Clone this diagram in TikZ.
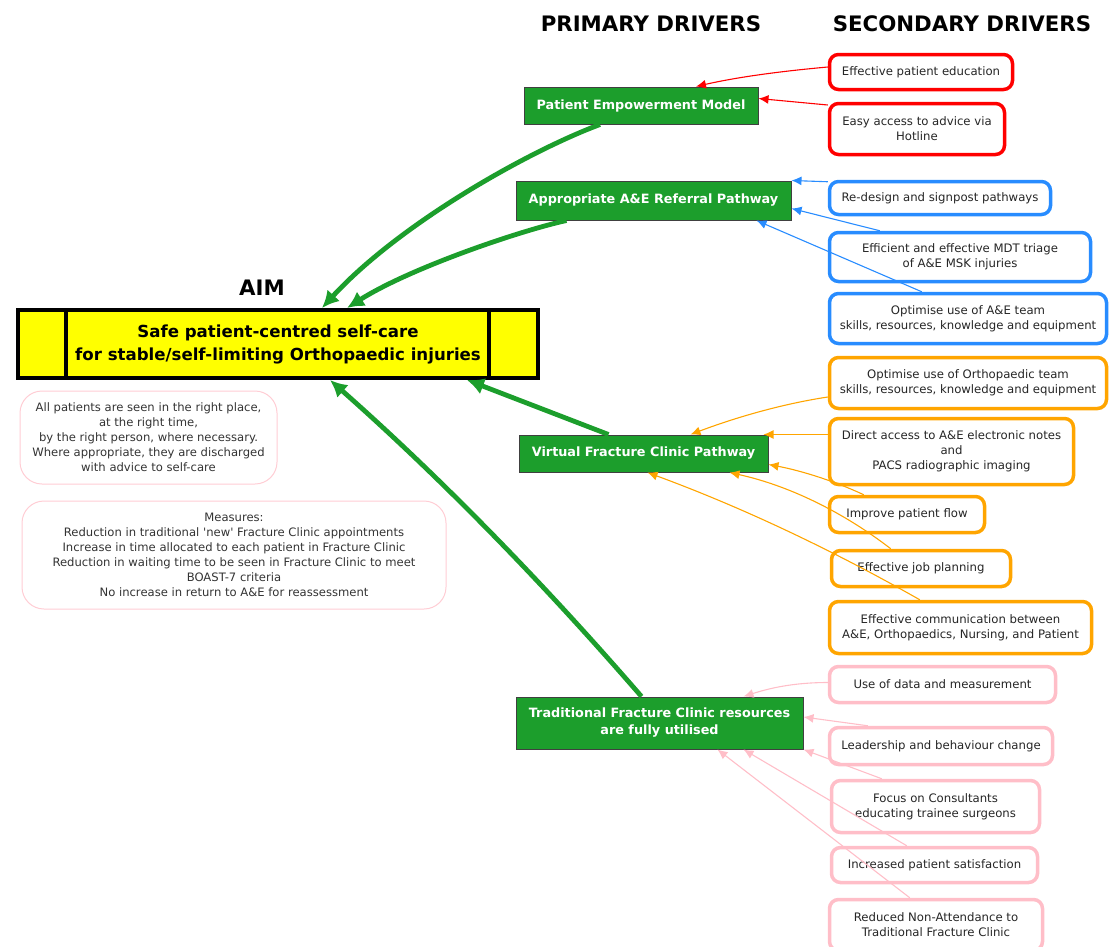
\documentclass[tikz,border=0pt]{standalone}
\usepackage{fontspec}
\setmainfont{DejaVu Sans}
\usetikzlibrary{arrows.meta}
\definecolor{drvgreen}{RGB}{28,158,44}
\definecolor{drvred}{RGB}{255,0,0}
\definecolor{drvblue}{RGB}{40,140,255}
\definecolor{drvorange}{RGB}{255,165,0}
\definecolor{drvpink}{RGB}{255,190,200}
\definecolor{notepink}{RGB}{255,205,212}
\definecolor{aimyellow}{RGB}{255,255,0}
\tikzset{
    prim/.style={draw=black!75, line width=1pt, fill=drvgreen, text=white, align=center, inner sep=1pt, font=\fontsize{12.8}{17}\selectfont\bfseries},
    sec/.style={draw=#1, line width=3.5pt, rounded corners=9pt, fill=white, align=center, inner sep=1pt, text=black!85, font=\fontsize{11.7}{15}\selectfont},
    note/.style={draw=notepink, line width=1pt, rounded corners=22pt, align=center, inner sep=1pt, text=black!80, font=\fontsize{11.6}{15}\selectfont},
    head/.style={font=\fontsize{21.3}{25}\selectfont\bfseries},
    link/.style={draw=#1, line width=1.1pt, -{Latex[length=10pt,width=9pt]}},
    main/.style={draw=drvgreen, line width=4.8pt, -{Latex[length=17pt,width=17pt]}},
}
\begin{document}
\begin{tikzpicture}[x=1pt,y=-1pt]
    \useasboundingbox (0,0) rectangle (1110,946);
    %headings
    \node[head] (primhead) at (651,24) {PRIMARY DRIVERS};
    \node[head] (sechead) at (962,24) {SECONDARY DRIVERS};
    \node[head] (aimhead) at (262,288) {AIM};
    %aim box
    \node[draw, line width=4pt, fill=aimyellow, minimum width=520pt, minimum height=68pt, align=center, font=\fontsize{16.6}{23}\selectfont\bfseries] (aim) at (278,344) {Safe patient-centred self-care\\for stable/self-limiting Orthopaedic injuries};
    \draw[line width=4pt] ([xshift=50pt]aim.north west) -- ([xshift=50pt]aim.south west);
    \draw[line width=4pt] ([xshift=-51pt]aim.north east) -- ([xshift=-51pt]aim.south east);
    \node[note, minimum width=257pt, minimum height=93pt] (vision) at (148.5,437.5) {All patients are seen in the right place,\\at the right time,\\by the right person, where necessary.\\Where appropriate, they are discharged\\with advice to self-care};
    \node[note, minimum width=424pt, minimum height=108pt] (measures) at (234,555) {Measures:\\Reduction in traditional \textquotesingle new\textquotesingle\ Fracture Clinic appointments\\Increase in time allocated to each patient in Fracture Clinic\\Reduction in waiting time to be seen in Fracture Clinic to meet\\BOAST-7 criteria\\No increase in return to A\&E for reassessment};
    %primary drivers
    \node[prim, minimum width=234pt, minimum height=37pt] (empower) at (641,105.5) {Patient Empowerment Model};
    \node[prim, minimum width=275pt, minimum height=39pt] (referral) at (653.5,200.5) {Appropriate A\&E Referral Pathway};
    \node[prim, minimum width=249pt, minimum height=37pt] (virtual) at (643.5,453.5) {Virtual Fracture Clinic Pathway};
    \node[prim, minimum width=287pt, minimum height=52pt] (tradfc) at (659.5,723) {Traditional Fracture Clinic resources\\are fully utilised};
    %secondary drivers
    \node[sec=drvred, minimum width=183pt, minimum height=35pt] (educ) at (921,72) {Effective patient education};
    \node[sec=drvred, minimum width=175pt, minimum height=51pt] (hotline) at (917,129) {Easy access to advice via\\Hotline};
    \node[sec=drvblue, minimum width=221pt, minimum height=33pt] (redesign) at (940,198) {Re-design and signpost pathways};
    \node[sec=drvblue, minimum width=261pt, minimum height=49pt] (triage) at (960,257) {Efficient and effective MDT triage\\of A\&E MSK injuries};
    \node[sec=drvblue, minimum width=277pt, minimum height=50pt] (aeteam) at (968,318.5) {Optimise use of A\&E team\\skills, resources, knowledge and equipment};
    \node[sec=drvorange, minimum width=277pt, minimum height=51pt] (orthoteam) at (968,383) {Optimise use of Orthopaedic team\\skills, resources, knowledge and equipment};
    \node[sec=drvorange, minimum width=244pt, minimum height=66pt] (notes) at (951.5,451.5) {Direct access to A\&E electronic notes\\and\\PACS radiographic imaging};
    \node[sec=drvorange, minimum width=155pt, minimum height=36pt] (flow) at (907,514.5) {Improve patient flow};
    \node[sec=drvorange, minimum width=179pt, minimum height=36pt] (jobplan) at (921,568.5) {Effective job planning};
    \node[sec=drvorange, minimum width=262pt, minimum height=52pt] (comms) at (960.5,627.5) {Effective communication between\\A\&E, Orthopaedics, Nursing, and Patient};
    \node[sec=drvpink, minimum width=226pt, minimum height=36pt] (data) at (942.5,684.5) {Use of data and measurement};
    \node[sec=drvpink, minimum width=223pt, minimum height=37pt] (leader) at (941,746) {Leadership and behaviour change};
    \node[sec=drvpink, minimum width=208pt, minimum height=52pt] (consult) at (935.5,806.5) {Focus on Consultants\\educating trainee surgeons};
    \node[sec=drvpink, minimum width=206pt, minimum height=35pt] (satisf) at (934.5,865) {Increased patient satisfaction};
    \node[sec=drvpink, minimum width=213pt, minimum height=51pt] (nonattend) at (936,925) {Reduced Non-Attendance to\\Traditional Fracture Clinic};
    %secondary to primary
    \draw[link=drvred] ([yshift=5pt]educ.west) .. controls +(-44,4) and +(44,-10) .. ([xshift=55pt]empower.north);
    \draw[link=drvred] ([yshift=24pt]hotline.west) -- ([yshift=7pt]empower.east);
    \draw[link=drvblue] ([yshift=-2pt]redesign.north west) -- (referral.north east);
    \draw[link=drvblue] ([xshift=52pt]triage.north west) -- ([yshift=-8pt]referral.east);
    \draw[link=drvblue] ([xshift=94pt]aeteam.north west) -- ([xshift=103pt]referral.south);
    \draw[link=drvorange] ([yshift=-14pt]orthoteam.west) .. controls +(-46,7) and +(45,-17) .. ([xshift=47pt]virtual.north);
    \draw[link=drvorange] ([yshift=17pt]notes.west) -- ([xshift=-5pt]virtual.north east);
    \draw[link=drvorange] ([xshift=36pt]flow.north west) .. controls +(-30,-14) and +(32,6) .. ([yshift=-11pt]virtual.east);
    \draw[link=drvorange] ([xshift=61pt]jobplan.north west) .. controls +(-48,-37) and +(59,13) .. ([xshift=86pt]virtual.south);
    \draw[link=drvorange] ([xshift=92pt]comms.north west) .. controls +(-88,-50) and +(95,35) .. ([xshift=4pt]virtual.south);
    \draw[link=drvpink] ([yshift=2pt]data.west) .. controls +(-35,0) and +(25,-8) .. ([xshift=84pt]tradfc.north);
    \draw[link=drvpink] ([xshift=40pt]leader.north west) -- ([yshift=6pt]tradfc.east);
    \draw[link=drvpink] ([xshift=52pt]consult.north west) -- (tradfc.south east);
    \draw[link=drvpink] ([xshift=77pt]satisf.north west) -- ([xshift=84pt]tradfc.south);
    \draw[link=drvpink] ([xshift=82pt]nonattend.north west) -- ([xshift=58pt]tradfc.south);
    %primary to aim
    \draw[main] ([xshift=-41pt]empower.south) .. controls +(-70,26) and +(78,-85) .. ([xshift=44pt]aim.north);
    \draw[main] ([xshift=-87pt]referral.south) .. controls +(-46,10) and +(63,-40) .. ([xshift=69pt]aim.north);
    \draw[main] ([xshift=-35pt]virtual.north) -- ([xshift=189pt]aim.south);
    \draw[main] ([xshift=-18pt]tradfc.north) .. controls +(-97,-112) and +(111,98) .. ([xshift=52pt]aim.south);
\end{tikzpicture}
\end{document}
